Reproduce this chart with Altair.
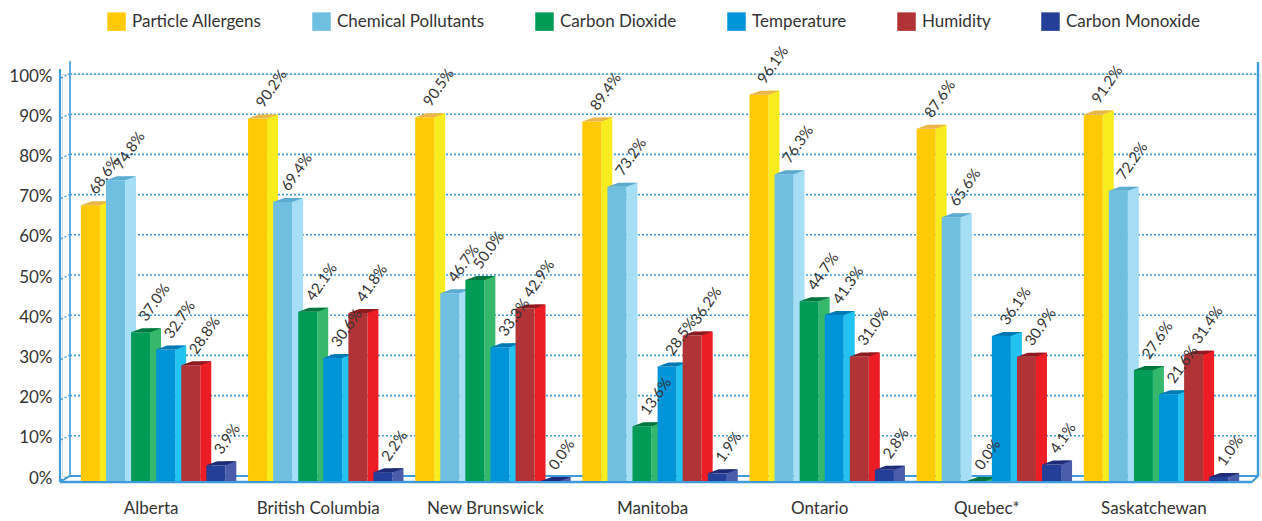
import altair as alt
import pandas as pd

# ---- data ---------------------------------------------------------------
provinces = ["Alberta", "British Columbia", "New Brunswick", "Manitoba",
             "Ontario", "Quebec*", "Saskatchewan"]
series = ["Particle Allergens", "Chemical Pollutants", "Carbon Dioxide",
          "Temperature", "Humidity", "Carbon Monoxide"]

particle_allergens = [68.6, 90.2, 90.5, 89.4, 96.1, 87.6, 91.2]
chemical_pollutants = [74.8, 69.4, 46.7, 73.2, 76.3, 65.6, 72.2]
carbon_dioxide = [37.0, 42.1, 50.0, 13.6, 44.7, 0.0, 27.6]
temperature = [32.7, 30.6, 33.3, 28.5, 41.3, 36.1, 21.6]
humidity = [28.8, 41.8, 42.9, 36.2, 31.0, 30.9, 31.4]
carbon_monoxide = [3.9, 2.2, 0.0, 1.9, 2.8, 4.1, 1.0]

y_ticks = list(range(0, 101, 10))

values_by_series = [particle_allergens, chemical_pollutants, carbon_dioxide,
                    temperature, humidity, carbon_monoxide]

# ---- styling ------------------------------------------------------------
FONT = "Lato"
TEXT = "#333333"
FRAME = "#3C9BDB"
FRONT = ["#FFCA05", "#6EBFE0", "#009C56", "#0094D8", "#B13336", "#233F98"]
SIDE = ["#F7EC1E", "#A6DEF6", "#35B86B", "#22C3F1", "#EC1D25", "#4A5CAA"]
TOP = ["#EAB549", "#5BAAD0", "#00763E", "#0079B5", "#8D1B1F", "#1E2B77"]

W, H = 1198, 402       # drawing area (back wall reaches x = 1196)
BAND_SPAN = 1180       # pixels shared by the seven province groups
GROUP_START = 0.1400   # first bar centre inside a province band
BAR_STEP = 0.1501      # distance between neighbouring bars (band units)
FRONT_W, SIDE_W = 19, 11
DROP = 5               # front faces sit a little lower than the back wall
# top face of a bar as a parallelogram (unit = 20 px, symbol size 1600)
TOP_PATH = "M-0.475,0 L0.475,0 L1.025,-0.2 L0.075,-0.2 Z"

rows = []
for j, vals in enumerate(values_by_series):
    for i, v in enumerate(vals):
        rows.append({"province": provinces[i], "p_idx": i,
                     "series": series[j], "s_idx": j, "value": v})
df = pd.DataFrame(rows)
ticks_df = pd.DataFrame({"value": y_ticks})
one_row = pd.DataFrame({"k": [0]})

label_lookup = "[" + ",".join("'" + p + "'" for p in provinces) + "]"

x_enc = alt.X(
    "xpos:Q",
    title=None,
    scale=alt.Scale(domain=[0, len(provinces)], range=[0, BAND_SPAN],
                    nice=False, zero=False),
    axis=alt.Axis(values=[i + 0.5 for i in range(len(provinces))],
                  labelExpr=label_lookup + "[floor(datum.value)]",
                  domain=False, ticks=False, grid=False,
                  labelPadding=24, labelFontSize=17, labelFont=FONT,
                  labelColor=TEXT, labelFontWeight="normal"),
)


def y_enc():
    return alt.Y(
        "value:Q",
        title=None,
        scale=alt.Scale(domain=[0, 100], nice=False),
        axis=alt.Axis(values=y_ticks, labelExpr="datum.value + '%'",
                      domain=False, ticks=False, grid=False,
                      labelPadding=10, labelFontSize=17, labelFont=FONT,
                      labelColor=TEXT, labelOffset=2),
    )


color_enc = alt.Color(
    "series:N",
    scale=alt.Scale(domain=series, range=FRONT),
    legend=alt.Legend(orient="none", legendX=45, legendY=-62,
                      direction="horizontal", title=None,
                      symbolType="square", symbolSize=342,
                      symbolStrokeWidth=0, symbolOpacity=1,
                      labelFontSize=17, labelFont=FONT, labelColor=TEXT,
                      columnPadding=50, labelOffset=6, padding=0),
)

base = alt.Chart(df).transform_calculate(
    xpos=f"datum.p_idx + {GROUP_START} + {BAR_STEP} * datum.s_idx",
    label="format(datum.value, '.1f') + '%'",
)

layers = []

# dotted gridlines on the back wall
layers.append(
    alt.Chart(ticks_df).mark_rule(color=FRAME, strokeWidth=1.6,
                                  strokeDash=[2, 2]).encode(
        x=alt.value(8), x2=alt.value(1196), y=y_enc())
)
# short dotted connectors between the front axis and the back wall
layers.append(
    alt.Chart(ticks_df).mark_rule(color=FRAME, strokeWidth=1.4,
                                  strokeDash=[2, 2], yOffset=4).encode(
        x=alt.value(-1), x2=alt.value(7), y=y_enc(), y2=alt.Y2("value:Q"))
)

# frame: back wall edges and front floor / axis
frame = [
    dict(x=8, x2=1196, y=H, y2=H, w=2.0),                   # back floor
    dict(x=-2, x2=1190, y=H + 6, y2=H + 6, w=2.4),          # front floor
    dict(x=-2, x2=-2, y=-5, y2=H + 6, w=2.2),               # front left axis
    dict(x=8, x2=8, y=-13, y2=H, w=1.6),                    # back left edge
    dict(x=1196, x2=1196, y=-12, y2=H, w=2.4),              # back right edge
    dict(x=1190, x2=1196, y=H + 6, y2=H, w=2.0),            # right floor joint
    dict(x=-2, x2=8, y=H + 6, y2=H, w=1.6),                 # left floor joint
]
for f in frame:
    layers.append(
        alt.Chart(one_row).mark_rule(color=FRAME, strokeWidth=f["w"]).encode(
            x=alt.value(f["x"]), x2=alt.value(f["x2"]),
            y=alt.value(f["y"]), y2=alt.value(f["y2"]))
    )

# 3-D bars: side face, front face, then top face, series by series
for j, s in enumerate(series):
    sub = base.transform_filter(alt.datum.s_idx == j)
    layers.append(
        sub.mark_bar(width=SIDE_W, xOffset=FRONT_W / 2 + SIDE_W / 2,
                     yOffset=DROP - 4, y2Offset=DROP, color=SIDE[j]).encode(
            x=x_enc, y=y_enc(), y2=alt.datum(0))
    )
    layers.append(
        sub.mark_bar(width=FRONT_W, yOffset=DROP, y2Offset=DROP).encode(
            x=x_enc, y=y_enc(), y2=alt.datum(0), color=color_enc)
    )
    layers.append(
        sub.mark_point(shape=TOP_PATH, size=1600, filled=True, opacity=1,
                       strokeWidth=0, yOffset=DROP, color=TOP[j]).encode(
            x=x_enc, y=y_enc())
    )

# rotated value labels
layers.append(
    base.mark_text(angle=305, align="left", baseline="alphabetic",
                   xOffset=6, yOffset=DROP - 10, font=FONT, fontSize=15,
                   color=TEXT).encode(x=x_enc, y=y_enc(), text="label:N")
)

chart = alt.layer(*layers).properties(
    width=W, height=H,
    padding={"left": 62, "top": 74, "right": 2, "bottom": 45},
    autosize="none",
).configure_view(stroke=None).configure(background="white")

chart.save("out.html", embed_options={"renderer": "svg", "actions": False})
